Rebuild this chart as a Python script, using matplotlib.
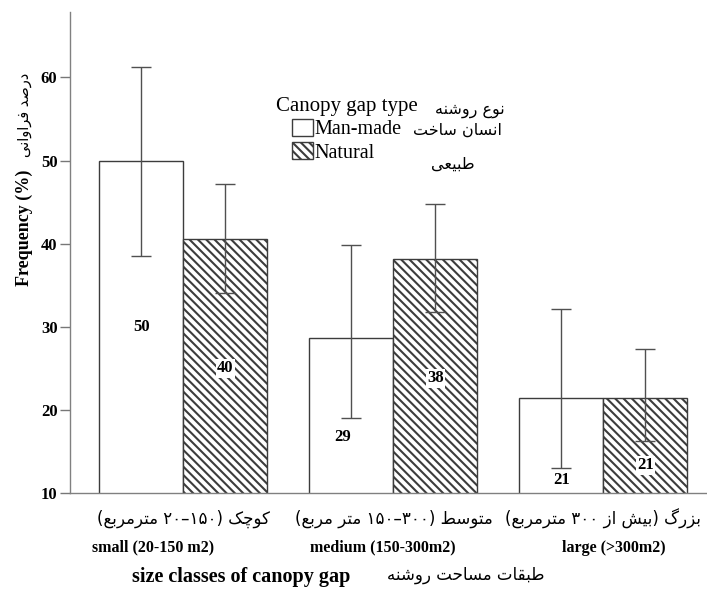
import re

import matplotlib.pyplot as plt
import numpy as np
from matplotlib.patches import Patch

# values
groups_en = ["small (20-150 m2)", "medium (150-300m2)", "large (>300m2)"]
groups_fa = ["کوچک (۲۰–۱۵۰ مترمربع)", "متوسط (۱۵۰–۳۰۰ متر مربع)", "بزرگ (بیش از ۳۰۰ مترمربع)"]
man_made = [50.0, 28.6, 21.4]
man_made_lo = [38.5, 19.0, 13.0]
man_made_hi = [61.3, 39.8, 32.1]
natural = [40.5, 38.1, 21.4]
natural_lo = [34.0, 31.8, 16.3]
natural_hi = [47.2, 44.8, 27.3]

# where SPSS put the value labels (in y units) and the english tick lines
man_made_label_y = [30.0, 16.7, 11.5]
natural_label_y = [25.0, 23.8, 13.3]
en_label_dx = [-0.145, -0.05, 0.05]

# matplotlib has no arabic shaping, so do the joining forms by hand
FORMS = {
    "ا": ("\uFE8D", "\uFE8E", None, None),
    "ب": ("\uFE8F", "\uFE90", "\uFE91", "\uFE92"),
    "ت": ("\uFE95", "\uFE96", "\uFE97", "\uFE98"),
    "ح": ("\uFEA1", "\uFEA2", "\uFEA3", "\uFEA4"),
    "خ": ("\uFEA5", "\uFEA6", "\uFEA7", "\uFEA8"),
    "د": ("\uFEA9", "\uFEAA", None, None),
    "ر": ("\uFEAD", "\uFEAE", None, None),
    "ز": ("\uFEAF", "\uFEB0", None, None),
    "س": ("\uFEB1", "\uFEB2", "\uFEB3", "\uFEB4"),
    "ش": ("\uFEB5", "\uFEB6", "\uFEB7", "\uFEB8"),
    "ص": ("\uFEB9", "\uFEBA", "\uFEBB", "\uFEBC"),
    "ط": ("\uFEC1", "\uFEC2", "\uFEC3", "\uFEC4"),
    "ع": ("\uFEC9", "\uFECA", "\uFECB", "\uFECC"),
    "ف": ("\uFED1", "\uFED2", "\uFED3", "\uFED4"),
    "ق": ("\uFED5", "\uFED6", "\uFED7", "\uFED8"),
    "م": ("\uFEE1", "\uFEE2", "\uFEE3", "\uFEE4"),
    "ن": ("\uFEE5", "\uFEE6", "\uFEE7", "\uFEE8"),
    "ه": ("\uFEE9", "\uFEEA", "\uFEEB", "\uFEEC"),
    "و": ("\uFEED", "\uFEEE", None, None),
    "چ": ("\uFB7A", "\uFB7B", "\uFB7C", "\uFB7D"),
    "ک": ("\uFB8E", "\uFB8F", "\uFB90", "\uFB91"),
    "گ": ("\uFB92", "\uFB93", "\uFB94", "\uFB95"),
    "ی": ("\uFBFC", "\uFBFD", "\uFBFE", "\uFBFF"),
}


def shape(text):
    out = []
    for i, ch in enumerate(text):
        if ch not in FORMS:
            out.append(ch)
            continue
        prev = text[i - 1] if i > 0 else ""
        nxt = text[i + 1] if i + 1 < len(text) else ""
        join_prev = prev in FORMS and FORMS[prev][2] is not None
        join_next = FORMS[ch][2] is not None and nxt in FORMS
        iso, fin, ini, med = FORMS[ch]
        if join_prev and join_next:
            out.append(med)
        elif join_prev:
            out.append(fin)
        elif join_next:
            out.append(ini)
        else:
            out.append(iso)
    return "".join(out)


def rtl(text):
    # reverse into visual order, keep digit runs left-to-right
    runs = re.findall(r"[\u06F0-\u06F9]+(?:[–-][\u06F0-\u06F9]+)*|.", shape(text))
    mirror = {"(": ")", ")": "("}
    return "".join(mirror.get(r, r) for r in runs[::-1])


serif = "Liberation Serif"
arabic = "DejaVu Sans"
plt.rcParams["hatch.linewidth"] = 1.5

fig = plt.figure(figsize=(7.07, 5.91), dpi=100)
ax = fig.add_axes([0.099, 0.166, 0.901, 0.814])

x = np.arange(len(groups_en))
w = 0.4
edge = "#3c3c3c"
err_kw = dict(ecolor="#505050", elinewidth=1, capsize=7.5, capthick=1, zorder=3)

mm_err = [np.subtract(man_made, man_made_lo), np.subtract(man_made_hi, man_made)]
nat_err = [np.subtract(natural, natural_lo), np.subtract(natural_hi, natural)]
ax.bar(x - w / 2, man_made, w, color="white", edgecolor=edge, linewidth=1,
       yerr=mm_err, error_kw=err_kw)
ax.bar(x + w / 2, natural, w, color="white", edgecolor=edge, linewidth=1,
       hatch="\\\\\\\\", yerr=nat_err, error_kw=err_kw)

for i in range(len(x)):
    ax.text(x[i] - w / 2 + (-0.04 if i == 1 else 0), man_made_label_y[i], f"{man_made[i]:.0f}",
            ha="center", va="center", family=serif, fontweight="bold", fontsize=12, zorder=4)
    ax.text(x[i] + w / 2, natural_label_y[i], f"{natural[i]:.0f}",
            ha="center", va="center", family=serif, fontweight="bold", fontsize=12, zorder=4,
            bbox=dict(facecolor="white", edgecolor="none", pad=1))

ax.set_xlim(-0.54, 2.493)
ax.set_ylim(10, 67.9)
ax.set_xticks([])
ax.set_yticks(range(10, 70, 10))
ax.set_yticklabels([str(t) for t in range(10, 70, 10)], family=serif, fontweight="bold", fontsize=12)
ax.tick_params(axis="y", length=7, width=1, color="#777777", pad=2)
for side in ["top", "right"]:
    ax.spines[side].set_visible(False)
for side in ["left", "bottom"]:
    ax.spines[side].set_color("#808080")
    ax.spines[side].set_linewidth(1)

# two-line category labels under the bars
tr = ax.get_xaxis_transform()
for i in range(len(x)):
    ax.text(x[i], -0.054, rtl(groups_fa[i]), transform=tr, ha="center", va="center",
            family=arabic, fontsize=12)
    ax.text(x[i] + en_label_dx[i], -0.114, groups_en[i], transform=tr, ha="center", va="center",
            family=serif, fontweight="bold", fontsize=11.5)

fig.text(0.341, 0.024, "size classes of canopy gap", ha="center", va="center",
         family=serif, fontweight="bold", fontsize=14.5)
fig.text(0.659, 0.027, rtl("طبقات مساحت روشنه"), ha="center", va="center",
         family=arabic, fontsize=12)
fig.text(0.034, 0.614, "Frequency (%)", rotation=90, ha="center", va="center",
         family=serif, fontweight="bold", fontsize=13)
fig.text(0.034, 0.805, rtl("درصد فراوانی"), rotation=90, ha="center", va="center",
         family=arabic, fontsize=10.5)

handles = [Patch(facecolor="white", edgecolor=edge, linewidth=1),
           Patch(facecolor="white", edgecolor=edge, linewidth=1, hatch="\\\\\\\\")]
leg = ax.legend(handles, ["Man-made", "Natural"], title="Canopy gap type",
                loc="upper center", bbox_to_anchor=(347 / 707, 1 - 97 / 591),
                bbox_transform=fig.transFigure, frameon=False, borderpad=0,
                borderaxespad=0, handlelength=1.0, handleheight=0.9,
                handletextpad=0.1, labelspacing=0.15,
                prop=dict(family=serif, size=14.5),
                title_fontproperties=dict(family=serif, size=15))

fig.text(470 / 707, 1 - 110 / 591, rtl("نوع روشنه"), ha="center", va="center",
         family=arabic, fontsize=11.5)
fig.text(457 / 707, 1 - 130 / 591, rtl("انسان ساخت"), ha="center", va="center",
         family=arabic, fontsize=11.5)
fig.text(453 / 707, 1 - 164 / 591, rtl("طبیعی"), ha="center", va="center",
         family=arabic, fontsize=11.5)

fig.savefig("out.png", dpi=100, facecolor="white")
